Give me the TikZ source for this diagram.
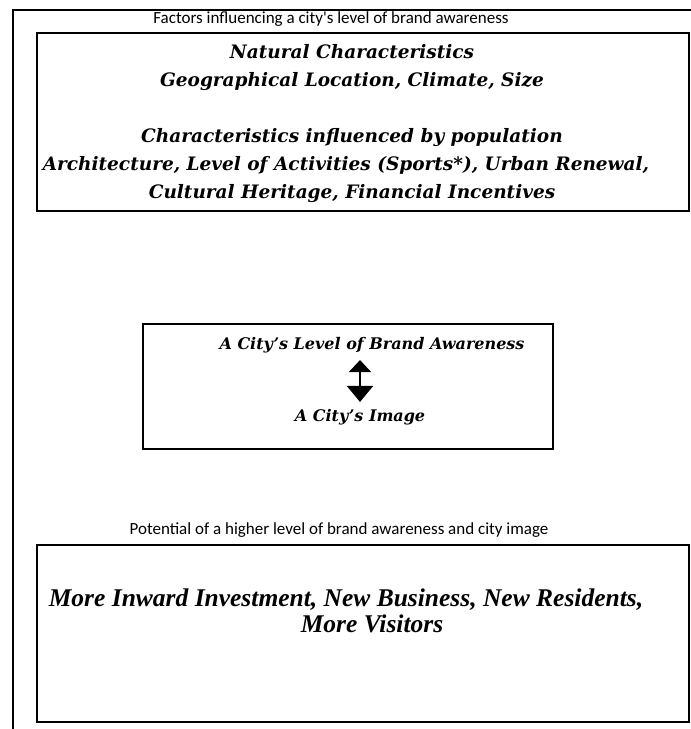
\documentclass[tikz,border=0pt]{standalone}
\usepackage{fontspec}
\setmainfont{DejaVu Serif}
\newfontfamily\capfont{Carlito}
\newfontfamily\outfont{Liberation Serif}
\usetikzlibrary{arrows.meta}

\tikzset{
    frame/.style={draw, line width=2pt, inner sep=0pt},
    caption/.style={font=\capfont\fontsize{17}{20}\selectfont, inner sep=0pt},
    factor/.style={font=\bfseries\itshape\fontsize{18.5}{28}\selectfont, align=center, inner sep=0pt},
    city/.style={font=\bfseries\itshape\fontsize{16}{19}\selectfont, inner sep=0pt},
    outcome/.style={font=\outfont\bfseries\itshape\fontsize{25.5}{26}\selectfont, align=center, inner sep=0pt},
}

\begin{document}
\begin{tikzpicture}[x=1pt, y=-1pt]
        \useasboundingbox (0, 0) rectangle (691, 729);

        % outer frame, open at right and bottom
        \coordinate (frametr) at (691, 10);
        \coordinate (frametl) at (13, 10);
        \coordinate (framebl) at (13, 729);
        \draw[line width=2pt] (frametr) -- (frametl) -- (framebl);

        % factors
        \node[caption] (factcap) at (331, 19) {Factors influencing a city's level of brand awareness};
        \node[frame, minimum width=652pt, minimum height=178pt] (factbox) at (363, 122) {};
        \node[factor] (facttext) at (352, 124) {Natural Characteristics\\
            Geographical Location, Climate, Size\\[28pt]
            Characteristics influenced by population\\
            Architecture, Level of Activities (Sports*), Urban Renewal,\rule{12pt}{0pt}\\
            Cultural Heritage, Financial Incentives};

        % awareness and image
        \node[frame, minimum width=410pt, minimum height=125pt] (citybox) at (348, 386.5) {};
        \node[city] (aware) at (372, 345) {A City's Level of Brand Awareness};
        \node[city] (image) at (360, 417) {A City's Image};
        \draw[line width=2pt, {Triangle[width=22pt, length=12pt]}-{Triangle[width=26pt, length=16pt]}]
            (image.north |- aware.south) ++(0, 7) -- ([yshift=7pt]image.north);

        % potential
        \node[caption] (potcap) at (339, 530) {Potential of a higher level of brand awareness and city image};
        \node[frame, minimum width=652pt, minimum height=177pt] (potbox) at (363, 633.5) {};
        \node[outcome] (pottext) at (346, 611) {More Inward Investment, New Business, New Residents,\\
            \hspace*{52pt}More Visitors};
    \end{tikzpicture}
\end{document}
